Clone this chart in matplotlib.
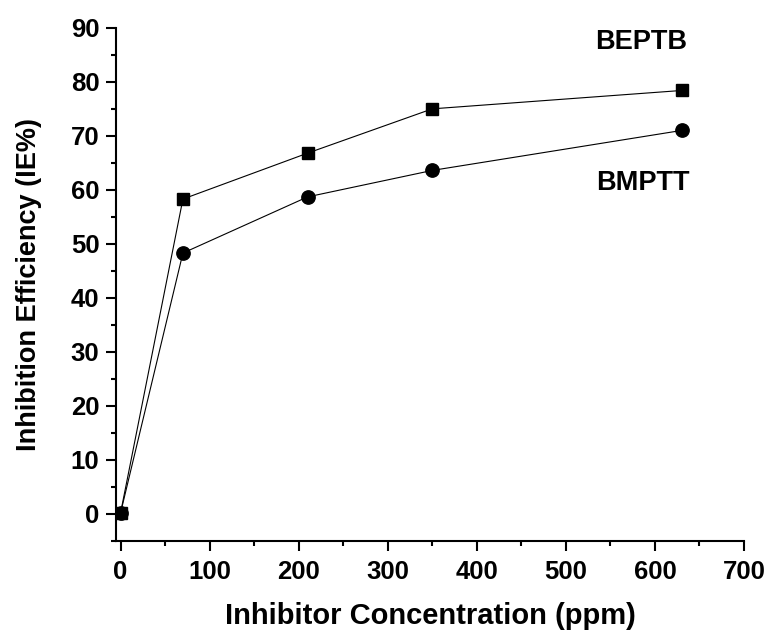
import matplotlib
matplotlib.use('Agg')
import matplotlib.pyplot as plt
from matplotlib.ticker import MultipleLocator

plt.rcParams['font.family'] = ['Liberation Sans', 'DejaVu Sans']
plt.rcParams['font.weight'] = 'bold'

conc = [0, 70, 210, 350, 630]
ie_beptb = [0.2, 58.3, 66.8, 75.0, 78.4]
ie_bmptt = [0.2, 48.3, 58.7, 63.6, 71.0]


def main():
    fig = plt.figure(figsize=(7.69, 6.32), dpi=100)
    ax = fig.add_axes([0.151, 0.144, 0.8165, 0.812])

    ax.plot(conc, ie_beptb, color='black', lw=0.8, marker='s', ms=8.4)
    ax.plot(conc, ie_bmptt, color='black', lw=0.8, marker='o', ms=9.6)

    ax.text(585, 87.3, 'BEPTB', ha='center', va='center', fontsize=19.5, fontweight='bold')
    ax.text(587, 61.2, 'BMPTT', ha='center', va='center', fontsize=19.5, fontweight='bold')

    ax.set_xlim(-5, 700)
    ax.set_ylim(-5, 90)
    ax.xaxis.set_major_locator(MultipleLocator(100))
    ax.xaxis.set_minor_locator(MultipleLocator(50))
    ax.yaxis.set_major_locator(MultipleLocator(10))
    ax.yaxis.set_minor_locator(MultipleLocator(5))

    for side in ['top', 'right']:
        ax.spines[side].set_visible(False)
    for side in ['left', 'bottom']:
        ax.spines[side].set_linewidth(1.5)

    ax.tick_params(which='major', direction='out', length=7, width=1.5, labelsize=18.5)
    ax.tick_params(axis='x', which='major', pad=7)
    ax.tick_params(axis='y', which='major', pad=5)
    ax.tick_params(which='minor', direction='out', length=3.6, width=1.5)

    ax.set_xlabel('Inhibitor Concentration (ppm)', fontsize=21, fontweight='bold', labelpad=13)
    ax.set_ylabel('Inhibition Efficiency (IE%)', fontsize=19.5, fontweight='bold', labelpad=21)

    fig.savefig('out.png', dpi=100)


if __name__ == '__main__':
    main()
